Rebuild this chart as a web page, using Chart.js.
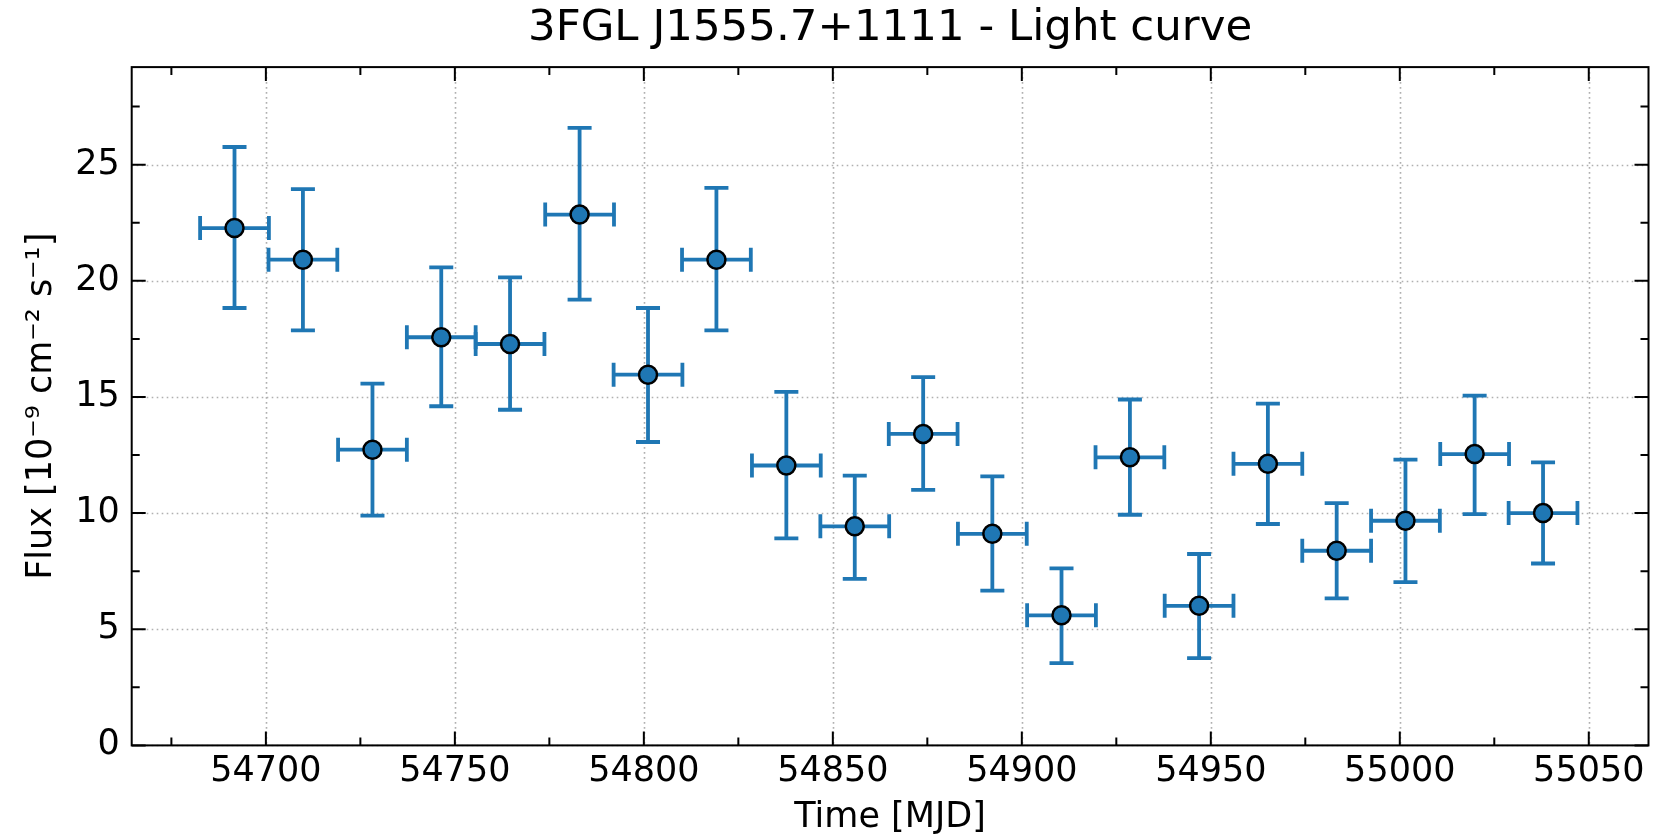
<!DOCTYPE html>
<html>
<head>
<meta charset="utf-8">
<script src="https://cdn.jsdelivr.net/npm/chart.js@4"></script>
<style>
  html, body { margin: 0; padding: 0; background: #ffffff; }
  canvas { display: block; }
</style>
</head>
<body>
<canvas id="c" width="1660" height="839"></canvas>
<script>
// ---- data ----
const mjd     = [54691.7, 54709.8, 54728.2, 54746.4, 54764.6, 54783.0, 54801.1, 54819.2, 54837.7, 54855.8,
                 54873.9, 54892.2, 54910.5, 54928.6, 54946.9, 54965.1, 54983.3, 55001.5, 55019.8, 55037.9];
const mjdHalf = [9.1, 9.1, 9.1, 9.1, 9.1, 9.1, 9.1, 9.1, 9.1, 9.1,
                 9.1, 9.1, 9.1, 9.1, 9.1, 9.1, 9.1, 9.1, 9.1, 9.1];
const flux    = [22.27, 20.91, 12.73, 17.57, 17.28, 22.85, 15.96, 20.91, 12.05, 9.43,
                 13.41, 9.11, 5.60, 12.40, 6.01, 12.12, 8.38, 9.67, 12.54, 10.00];
const fluxLo  = [18.83, 17.87, 9.89, 14.60, 14.45, 19.19, 13.06, 17.87, 8.91, 7.17,
                 11.00, 6.66, 3.54, 9.93, 3.76, 9.53, 6.33, 7.03, 9.96, 7.83];
const fluxHi  = [25.76, 23.95, 15.57, 20.58, 20.15, 26.58, 18.83, 24.00, 15.22, 11.61,
                 15.85, 11.58, 7.62, 14.89, 8.24, 14.71, 10.43, 12.30, 15.06, 12.18];

const xTicks      = [54700, 54750, 54800, 54850, 54900, 54950, 55000, 55050];
const xMinorTicks = [54675, 54725, 54775, 54825, 54875, 54925, 54975, 55025];
const yTicks      = [0, 5, 10, 15, 20, 25];
const yMinorTicks = [2.5, 7.5, 12.5, 17.5, 22.5, 27.5];

const titleText = '3FGL J1555.7+1111 - Light curve';
const xLabel = 'Time [MJD]';
const yLabel = 'Flux [10\u207B\u2079 cm\u207B\u00B2 s\u207B\u00B9]';

// ---- styling ----
const FONT = "'DejaVu Sans', sans-serif";
const BLUE = '#1f77b4';
Chart.defaults.color = '#000000';
Chart.defaults.font.family = FONT;

const points = mjd.map((m, i) => ({ x: m, y: flux[i] }));

const decor = {
  id: 'decor',
  beforeDatasetsDraw(chart) {
    const { ctx, chartArea: a, scales: { x, y } } = chart;
    ctx.save();
    // dotted grid at major ticks
    ctx.strokeStyle = '#b0b0b0';
    ctx.lineWidth = 1.6;
    ctx.setLineDash([1.6, 3.4]);
    xTicks.forEach(v => {
      const px = Math.round(x.getPixelForValue(v)) + 0.5;
      ctx.beginPath(); ctx.moveTo(px, a.top); ctx.lineTo(px, a.bottom); ctx.stroke();
    });
    yTicks.forEach(v => {
      const py = Math.round(y.getPixelForValue(v)) + 0.5;
      ctx.beginPath(); ctx.moveTo(a.left, py); ctx.lineTo(a.right, py); ctx.stroke();
    });
    ctx.setLineDash([]);
    // error bars
    ctx.strokeStyle = BLUE;
    ctx.lineWidth = 3.8;
    ctx.lineCap = 'butt';
    const cap = 12;
    mjd.forEach((m, i) => {
      const cx = x.getPixelForValue(m);
      const cy = y.getPixelForValue(flux[i]);
      const x0 = x.getPixelForValue(m - mjdHalf[i]);
      const x1 = x.getPixelForValue(m + mjdHalf[i]);
      const y0 = y.getPixelForValue(fluxLo[i]);
      const y1 = y.getPixelForValue(fluxHi[i]);
      ctx.beginPath();
      ctx.moveTo(cx, y0); ctx.lineTo(cx, y1);
      ctx.moveTo(x0, cy); ctx.lineTo(x1, cy);
      // caps
      ctx.moveTo(cx - cap, y0); ctx.lineTo(cx + cap, y0);
      ctx.moveTo(cx - cap, y1); ctx.lineTo(cx + cap, y1);
      ctx.moveTo(x0, cy - cap); ctx.lineTo(x0, cy + cap);
      ctx.moveTo(x1, cy - cap); ctx.lineTo(x1, cy + cap);
      ctx.stroke();
    });
    ctx.restore();
  },
  afterDraw(chart) {
    const { ctx, chartArea: a, scales: { x, y } } = chart;
    ctx.save();
    ctx.strokeStyle = '#000000';
    ctx.lineWidth = 2;
    ctx.setLineDash([]);
    // frame
    ctx.strokeRect(a.left, a.top, a.right - a.left, a.bottom - a.top);
    const MAJ = 14, MIN = 8;
    ctx.beginPath();
    const xt = (v, len) => {
      const px = x.getPixelForValue(v);
      ctx.moveTo(px, a.bottom); ctx.lineTo(px, a.bottom - len);
      ctx.moveTo(px, a.top); ctx.lineTo(px, a.top + len);
    };
    const yt = (v, len) => {
      const py = y.getPixelForValue(v);
      ctx.moveTo(a.left, py); ctx.lineTo(a.left + len, py);
      ctx.moveTo(a.right, py); ctx.lineTo(a.right - len, py);
    };
    xTicks.forEach(v => xt(v, MAJ));
    xMinorTicks.forEach(v => xt(v, MIN));
    yTicks.forEach(v => yt(v, MAJ));
    yMinorTicks.forEach(v => yt(v, MIN));
    ctx.stroke();
    ctx.restore();
  }
};

new Chart(document.getElementById('c'), {
  type: 'scatter',
  data: {
    datasets: [{
      data: points,
      backgroundColor: BLUE,
      borderColor: '#000000',
      borderWidth: 2.5,
      pointRadius: 9,
      pointHoverRadius: 9
    }]
  },
  options: {
    responsive: false,
    animation: false,
    devicePixelRatio: 1,
    events: [],
    layout: { padding: { left: 0, right: 3.3, top: 0, bottom: 0 } },
    plugins: {
      legend: { display: false },
      tooltip: { enabled: false },
      title: {
        display: true,
        text: titleText,
        fullSize: false,
        color: '#000000',
        font: { family: FONT, size: 43.5, weight: 'normal' },
        padding: { top: 2.6, bottom: 12.3 }
      }
    },
    scales: {
      x: {
        type: 'linear',
        min: 54664.5,
        max: 55065.8,
        afterBuildTicks: s => { s.ticks = xTicks.map(v => ({ value: v })); },
        afterFit: s => { s.height = 93.6; },
        grid: { display: false, drawTicks: false },
        border: { display: false },
        ticks: {
          autoSkip: false, maxRotation: 0, padding: 5.3,
          color: '#000000',
          font: { family: FONT, size: 35 },
          callback: v => String(v)
        },
        title: {
          display: true, text: xLabel, color: '#000000',
          font: { family: FONT, size: 35 },
          padding: { top: 0, bottom: 0 }
        }
      },
      y: {
        type: 'linear',
        min: 0,
        max: 29.2,
        afterBuildTicks: s => { s.ticks = yTicks.map(v => ({ value: v })); },
        afterFit: s => { s.width = 131.7; },
        grid: { display: false, drawTicks: false },
        border: { display: false },
        ticks: {
          autoSkip: false, padding: 12,
          color: '#000000',
          font: { family: FONT, size: 35 },
          callback: v => String(v)
        },
        title: {
          display: true, text: yLabel, color: '#000000',
          font: { family: FONT, size: 35 },
          padding: { top: 21, bottom: 0 }
        }
      }
    }
  },
  plugins: [decor]
});
</script>
</body>
</html>
